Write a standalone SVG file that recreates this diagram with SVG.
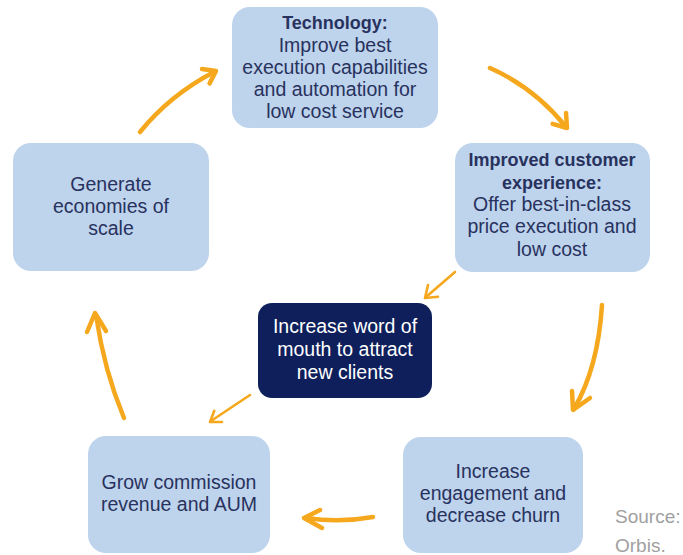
<svg xmlns="http://www.w3.org/2000/svg" width="683" height="555" viewBox="0 0 683 555">
  <style>
    .box { fill: #BED3EC; }
    .dark { fill: #0E1F5B; }
    .t { font-family: "Liberation Sans", Arial, sans-serif; font-size: 19.5px; fill: #28325E; text-anchor: middle; }
    .b { font-weight: bold; font-size: 18px; }
    .w { fill: #FFFFFF; }
    .src { font-family: "Liberation Sans", Arial, sans-serif; font-size: 19px; fill: #A0A0A0; }
    .arr { fill: none; stroke: #F5A81E; stroke-width: 4.5; stroke-linecap: round; stroke-linejoin: round; }
    .arr.thin { stroke-width: 2.6; }
  </style>

  <!-- connectors -->
  <g id="connectors">
    <path class="arr" d="M140,132 Q170,95 214,72"/>
    <path class="arr" d="M202,69 L216,71 L209.6,83.4"/>

    <path class="arr" d="M490,68 Q535,88 566,127"/>
    <path class="arr" d="M566,113 L567,128 L552.6,123.8"/>

    <path class="arr" d="M602,305 Q598,368 574,409"/>
    <path class="arr" d="M572,391 L573,410 L590,398"/>

    <path class="arr" d="M373,517 Q340,523 306,518"/>
    <path class="arr" d="M320,510 L304,518 L322,528"/>

    <path class="arr" d="M124,418 Q104,370 96,315"/>
    <path class="arr" d="M87,332 L95,313 L106,331"/>

    <path class="arr thin" d="M455,272 L426,297"/>
    <path class="arr thin" d="M438,296.7 L425,298 L428,285"/>

    <path class="arr thin" d="M250,395 L211,421"/>
    <path class="arr thin" d="M222,422 L210,422 L214.3,410.8"/>
  </g>

  <g id="technology">
    <rect class="box" x="232" y="7" width="206" height="121" rx="18"/>
    <text class="t b" x="335" y="29">Technology:</text>
    <text class="t" x="335" y="52">Improve best</text>
    <text class="t" x="335" y="74">execution capabilities</text>
    <text class="t" x="335" y="96">and automation for</text>
    <text class="t" x="335" y="118">low cost service</text>
  </g>

  <g id="customer-experience">
    <rect class="box" x="455" y="143" width="195" height="129" rx="18"/>
    <text class="t b" x="552" y="166">Improved customer</text>
    <text class="t b" x="552" y="189">experience:</text>
    <text class="t" x="552" y="211">Offer best-in-class</text>
    <text class="t" x="552" y="233">price execution and</text>
    <text class="t" x="552" y="256">low cost</text>
  </g>

  <g id="word-of-mouth">
    <rect class="dark" x="258" y="303" width="174" height="95" rx="14"/>
    <text class="t w" x="345" y="333">Increase word of</text>
    <text class="t w" x="345" y="356">mouth to attract</text>
    <text class="t w" x="345" y="379">new clients</text>
  </g>

  <g id="engagement">
    <rect class="box" x="403" y="437" width="180" height="116" rx="18"/>
    <text class="t" x="493" y="478">Increase</text>
    <text class="t" x="493" y="500">engagement and</text>
    <text class="t" x="493" y="522">decrease churn</text>
  </g>

  <g id="commission">
    <rect class="box" x="88" y="436" width="182" height="117" rx="18"/>
    <text class="t" x="179" y="489">Grow commission</text>
    <text class="t" x="179" y="511">revenue and AUM</text>
  </g>

  <g id="economies">
    <rect class="box" x="13" y="143" width="196" height="128" rx="18"/>
    <text class="t" x="111" y="191">Generate</text>
    <text class="t" x="111" y="213">economies of</text>
    <text class="t" x="111" y="235">scale</text>
  </g>

  <g id="source">
    <text class="src" x="615" y="523">Source:</text>
    <text class="src" x="615" y="552">Orbis.</text>
  </g>
</svg>
